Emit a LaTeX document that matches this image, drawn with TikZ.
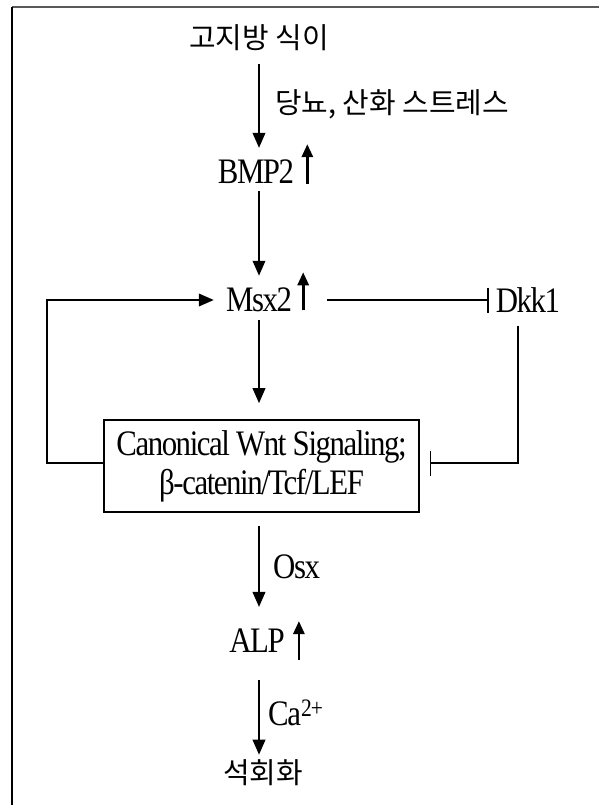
\documentclass[tikz,border=0pt]{standalone}
\usepackage{fontspec}
\setmainfont{Liberation Serif}[FakeStretch=0.86, LetterSpace=-4]
\newfontfamily\kor{Noto Sans CJK KR}
\usetikzlibrary{arrows.meta, positioning}

\tikzset{
  txt/.style={inner sep=0pt, font=\fontsize{36}{39}\selectfont},
  ktxt/.style={inner sep=0pt, font=\kor\fontsize{29}{35}\selectfont},
  flow/.style={line width=2.1bp, -{Triangle[length=15bp,width=12.5bp]}},
  rise/.style={line width=2.8bp, -{Triangle[length=13bp,width=11bp]}},
  inhib/.style={line width=1.6bp, -{Bar[width=25bp]}},
  sigbox/.style={draw, line width=1.6bp, inner sep=0pt, minimum width=315bp,
    minimum height=92bp, align=center, font=\fontsize{36}{39}\selectfont},
}

\begin{document}
\begin{tikzpicture}[x=1bp, y=-1bp]
\def\cx{259}
\useasboundingbox (0,0) rectangle (599,805);

\draw[line width=1.5bp, black!65] (12,7) -- (599,7);
\draw[line width=1.2bp] (12,7) -- (12,805);

\node[ktxt] (diet) at (\cx,38) {고지방 식이};
\node[txt] (bmp) at (\cx-3,172) {BMP2};
\node[txt] (msx) at (\cx,300) {Msx2};
\node[txt] (dkk) at (528,300) {Dkk1};
\node[sigbox] (wnt) at (\cx+2.5,466) {Canonical Wnt Signaling;\\β-catenin/Tcf/LEF};
\node[txt] (alp) at (\cx-2,641) {ALP};
\node[ktxt] (calc) at (\cx+4,773) {석회화};

\node[ktxt, anchor=west] (stress) at (\cx+16,104) {당뇨, 산화 스트레스};
\node[txt, anchor=west] (osx) at (\cx+14,567) {Osx};
\node[txt, anchor=west] (ca) at (\cx+9,713) {Ca\textsuperscript{2+}};

\draw[flow, shorten <=13bp, shorten >=12bp] (diet.south -| \cx,0) -- (bmp.north -| \cx,0);
\draw[flow, shorten <=7bp, shorten >=12bp] (bmp.south -| \cx,0) -- (msx.north -| \cx,0);
\draw[flow, shorten <=8bp, shorten >=16bp] (msx.south) -- (msx.south |- wnt.north);
\draw[flow, shorten <=13bp, shorten >=22bp] (wnt.south -| \cx,0) -- (alp.north -| \cx,0);
\draw[flow, shorten <=27bp, shorten >=5bp] (alp.south -| \cx,0) -- (calc.north -| \cx,0);

\draw[rise] ([xshift=13bp]bmp.south east) -- ++(0,-40);
\draw[rise] ([xshift=11bp,yshift=2bp]msx.south east) -- ++(0,-38);
\draw[rise] ([xshift=14bp,yshift=-7bp]alp.south east) -- ++(0,-39);

\draw[inhib, shorten <=35bp, shorten >=7bp] (msx.east) -- (dkk.west);
\draw[inhib, shorten <=13bp, shorten >=10bp] ([xshift=-10bp]dkk.south) |- ([yshift=3bp]wnt.east);
\draw[flow, shorten >=12bp] ([yshift=3bp]wnt.west) -- ++(-56,0) |- (msx.west);
\end{tikzpicture}
\end{document}
